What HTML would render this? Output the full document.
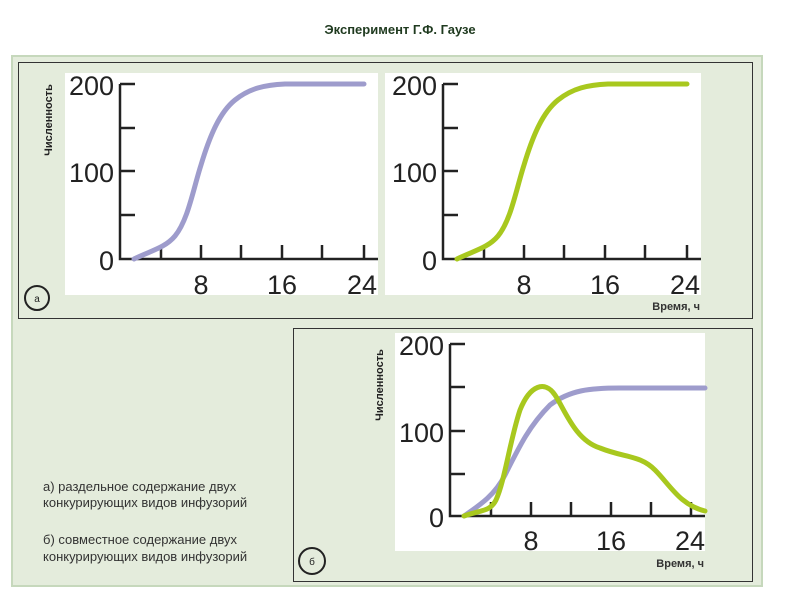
<!DOCTYPE html>
<html><head><meta charset="utf-8"><style>
html,body{margin:0;padding:0;background:#fff;}
svg{display:block;font-family:"Liberation Sans","DejaVu Sans",sans-serif;}
</style></head><body>
<svg width="800" height="600" viewBox="0 0 800 600">
<rect x="0" y="0" width="800" height="600" fill="#fff"/>
<text x="400" y="34" text-anchor="middle" font-size="13" font-weight="bold" fill="#1f3a1f">Эксперимент Г.Ф. Гаузе</text>
<rect x="12" y="56" width="750" height="530" fill="#e4ecdc" stroke="#c6d8bc" stroke-width="2"/>
<rect x="18.5" y="62.5" width="734" height="256" fill="none" stroke="#333" stroke-width="1"/>
<rect x="293.5" y="328.5" width="459" height="253" fill="none" stroke="#333" stroke-width="1"/>
<!-- chart 1 -->
<rect x="65" y="73" width="313" height="222" fill="#fff"/>
<g stroke="#222" stroke-width="2.5" fill="none">
<path d="M120 84 V259 H378"/>
<path d="M120 84 H135 M120 128 H135 M120 171 H135 M120 215 H135"/>
<path d="M161 259 V245 M201 259 V245 M241 259 V245 M282 259 V245 M322 259 V245 M364 259 V245"/>
</g>
<g font-size="27" fill="#222" text-anchor="end">
<text x="114" y="95">200</text><text x="114" y="182">100</text><text x="114" y="270">0</text>
</g>
<g font-size="27" fill="#222" text-anchor="middle">
<text x="201" y="294">8</text><text x="282" y="294">16</text><text x="362" y="294">24</text>
</g>
<text transform="translate(52,120) rotate(-90)" text-anchor="middle" font-size="11" font-weight="bold" fill="#222">Численность</text>
<path d="M134 259 C150 251 165 248 175 236 C188 220 193 190 201 165 C210 135 220 112 235 100 C250 88 265 85 285 84 L364 84" stroke="#9e9ccc" stroke-width="5" fill="none" stroke-linecap="round"/>
<!-- chart 2 -->
<rect x="385" y="73" width="316" height="222" fill="#fff"/>
<g stroke="#222" stroke-width="2.5" fill="none">
<path d="M443 84 V259 H701"/>
<path d="M443 84 H458 M443 128 H458 M443 171 H458 M443 215 H458"/>
<path d="M484 259 V245 M524 259 V245 M564 259 V245 M605 259 V245 M645 259 V245 M687 259 V245"/>
</g>
<g font-size="27" fill="#222" text-anchor="end">
<text x="437" y="95">200</text><text x="437" y="182">100</text><text x="437" y="270">0</text>
</g>
<g font-size="27" fill="#222" text-anchor="middle">
<text x="524" y="294">8</text><text x="605" y="294">16</text><text x="685" y="294">24</text>
</g>
<path d="M457 259 C473 251 488 248 498 236 C511 220 516 190 524 165 C533 135 543 112 558 100 C573 88 588 85 608 84 L687 84" stroke="#a8c81e" stroke-width="5" fill="none" stroke-linecap="round"/>
<circle cx="37" cy="298" r="12" fill="none" stroke="#222" stroke-width="2"/>
<text x="37" y="302" text-anchor="middle" font-size="10" fill="#222">а</text>
<text x="700" y="310" text-anchor="end" font-size="11" font-weight="bold" fill="#333">Время, ч</text>
<!-- chart б -->
<rect x="395" y="333" width="310" height="218" fill="#fff"/>
<g stroke="#222" stroke-width="2.5" fill="none">
<path d="M450 344 V516 H705"/>
<path d="M450 344 H465 M450 387 H465 M450 431 H465 M450 474 H465"/>
<path d="M491 516 V502 M531 516 V502 M571 516 V502 M611 516 V502 M651 516 V502 M691 516 V502"/>
</g>
<g font-size="27" fill="#222" text-anchor="end">
<text x="444" y="355">200</text><text x="444" y="442">100</text><text x="444" y="527">0</text>
</g>
<g font-size="27" fill="#222" text-anchor="middle">
<text x="531" y="550">8</text><text x="611" y="550">16</text><text x="690" y="550">24</text>
</g>
<text transform="translate(383,385) rotate(-90)" text-anchor="middle" font-size="11" font-weight="bold" fill="#222">Численность</text>
<path d="M464 516 C480 505 495 495 505 475 C520 445 530 425 550 405 C570 390 590 388 620 388 L705 388" stroke="#9e9ccc" stroke-width="5" fill="none" stroke-linecap="round"/>
<path d="M464 516 C480 510 490 512 496 500 C505 480 510 440 520 410 C530 385 545 380 555 395 C565 410 575 440 600 448 C625 458 640 455 655 470 C670 485 680 505 705 511" stroke="#a8c81e" stroke-width="5" fill="none" stroke-linecap="round"/>
<circle cx="312" cy="561" r="13" fill="none" stroke="#222" stroke-width="2"/>
<text x="312" y="565" text-anchor="middle" font-size="10" fill="#222">б</text>
<text x="704" y="567" text-anchor="end" font-size="11" font-weight="bold" fill="#333">Время, ч</text>
<g font-size="13" fill="#333">
<text x="43" y="491">а) раздельное содержание двух</text>
<text x="43" y="507">конкурирующих видов инфузорий</text>
<text x="43" y="544">б) совместное содержание двух</text>
<text x="43" y="561">конкурирующих видов инфузорий</text>
</g>
</svg>
</body></html>
